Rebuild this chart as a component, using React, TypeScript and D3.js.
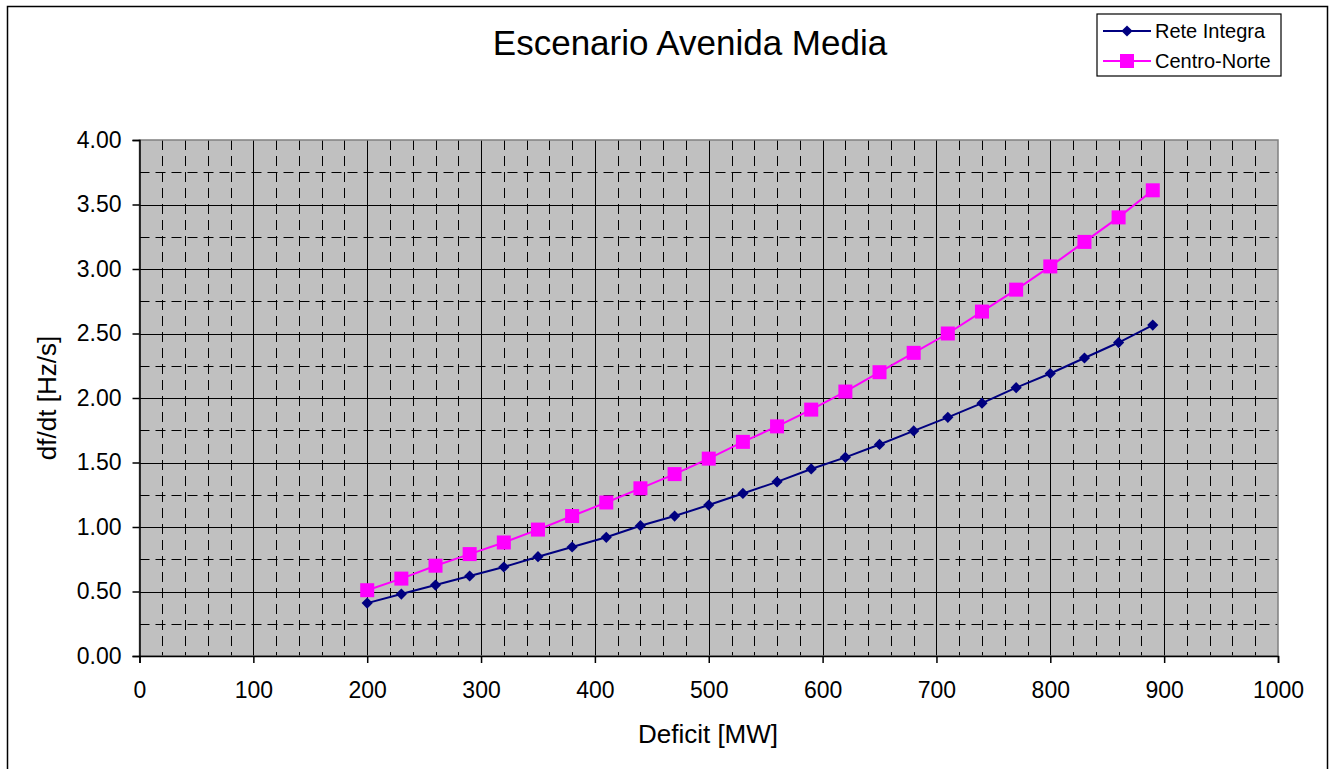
import React, { useEffect, useRef } from 'react';
import * as d3 from 'd3';

const deficit = [200, 230, 260, 290, 320, 350, 380, 410, 440, 470, 500, 530, 560, 590, 620, 650, 680, 710, 740, 770, 800, 830, 860, 890];
const reteIntegra = [0.41, 0.48, 0.55, 0.62, 0.69, 0.77, 0.845, 0.92, 1.01, 1.085, 1.17, 1.26, 1.35, 1.45, 1.54, 1.64, 1.745, 1.85, 1.96, 2.08, 2.19, 2.31, 2.43, 2.565];
const centroNorte = [0.51, 0.60, 0.70, 0.79, 0.88, 0.98, 1.085, 1.19, 1.30, 1.41, 1.53, 1.66, 1.78, 1.91, 2.05, 2.20, 2.35, 2.50, 2.67, 2.84, 3.02, 3.21, 3.40, 3.61];
const xTicks = [0, 100, 200, 300, 400, 500, 600, 700, 800, 900, 1000];
const yTicks = [0, 0.5, 1, 1.5, 2, 2.5, 3, 3.5, 4];

const W = 1333;
const H = 769;
const FONT = "'Liberation Sans', Arial, sans-serif";

export default function App() {
  const ref = useRef<SVGSVGElement>(null);

  useEffect(() => {
    if (!ref.current) return;
    const svg = d3.select(ref.current);
    svg.selectAll('*').remove();

    const left = 139.5, right = 1278, top = 140, bottom = 656;
    const x = d3.scaleLinear().domain([0, 1000]).range([left, right]);
    const y = d3.scaleLinear().domain([0, 4]).range([bottom, top]);

    svg.append('rect').attr('width', W).attr('height', H).attr('fill', '#fff');
    // outer chart border
    svg.append('rect')
      .attr('x', 7.5).attr('y', 6.5).attr('width', 1320).attr('height', 780)
      .attr('fill', 'none').attr('stroke', '#000').attr('stroke-width', 1.5);

    // plot area
    svg.append('rect')
      .attr('x', left).attr('y', top).attr('width', right - left).attr('height', bottom - top)
      .attr('fill', '#c0c0c0');

    const g = svg.append('g');
    // minor grid
    d3.range(0, 1001, 20).filter(v => v % 100 !== 0).forEach(v => {
      g.append('line')
        .attr('x1', Math.round(x(v)) + 0.5).attr('x2', Math.round(x(v)) + 0.5)
        .attr('y1', top).attr('y2', bottom)
        .attr('stroke', '#000').attr('stroke-width', 1).attr('stroke-dasharray', '10,6');
    });
    d3.range(0.25, 4, 0.5).forEach(v => {
      g.append('line')
        .attr('y1', Math.round(y(v)) + 0.5).attr('y2', Math.round(y(v)) + 0.5)
        .attr('x1', left).attr('x2', right)
        .attr('stroke', '#000').attr('stroke-width', 1).attr('stroke-dasharray', '10,6');
    });
    // major grid
    xTicks.slice(1, -1).forEach(v => {
      g.append('line')
        .attr('x1', Math.round(x(v)) + 0.5).attr('x2', Math.round(x(v)) + 0.5)
        .attr('y1', top).attr('y2', bottom)
        .attr('stroke', '#000').attr('stroke-width', 1);
    });
    yTicks.slice(1, -1).forEach(v => {
      g.append('line')
        .attr('y1', Math.round(y(v)) + 0.5).attr('y2', Math.round(y(v)) + 0.5)
        .attr('x1', left).attr('x2', right)
        .attr('stroke', '#000').attr('stroke-width', 1);
    });

    // plot border
    svg.append('rect')
      .attr('x', left).attr('y', top).attr('width', right - left).attr('height', bottom - top)
      .attr('fill', 'none').attr('stroke', '#808080').attr('stroke-width', 1.5);

    // axes
    const xAxis = svg.append('g')
      .attr('transform', `translate(0,${bottom})`)
      .call(d3.axisBottom(x).tickValues(xTicks).tickSize(7).tickPadding(19).tickFormat(d => String(d)));
    xAxis.select('.domain').attr('stroke', '#000').attr('stroke-width', 1.5);
    xAxis.selectAll('line').attr('stroke', '#000').attr('stroke-width', 1.5);
    xAxis.selectAll('text').attr('font-family', FONT).attr('font-size', 23).attr('fill', '#000');

    const yAxis = svg.append('g')
      .attr('transform', `translate(${left},0)`)
      .call(d3.axisLeft(y).tickValues(yTicks).tickSize(7).tickPadding(11).tickFormat(d => (d as number).toFixed(2)));
    yAxis.select('.domain').attr('stroke', '#000').attr('stroke-width', 1.5);
    yAxis.selectAll('line').attr('stroke', '#000').attr('stroke-width', 1.5);
    yAxis.selectAll('text').attr('font-family', FONT).attr('font-size', 23).attr('fill', '#000');

    const line = d3.line<[number, number]>().x(d => x(d[0])).y(d => y(d[1]));
    const ri: [number, number][] = deficit.map((v, i) => [v, reteIntegra[i]]);
    const cn: [number, number][] = deficit.map((v, i) => [v, centroNorte[i]]);

    svg.append('path').datum(cn).attr('d', line).attr('fill', 'none')
      .attr('stroke', '#ff00ff').attr('stroke-width', 2);
    svg.append('path').datum(ri).attr('d', line).attr('fill', 'none')
      .attr('stroke', '#000080').attr('stroke-width', 2);

    const diamond = d3.symbol().type(d3.symbolDiamond2).size(80);
    svg.selectAll('.ri').data(ri).enter().append('path')
      .attr('transform', d => `translate(${x(d[0])},${y(d[1])})`)
      .attr('d', diamond()).attr('fill', '#000080');
    svg.selectAll('.cn').data(cn).enter().append('rect')
      .attr('x', d => x(d[0]) - 7).attr('y', d => y(d[1]) - 7)
      .attr('width', 14).attr('height', 14).attr('fill', '#ff00ff');

    // title
    svg.append('text').attr('x', 690).attr('y', 55).attr('text-anchor', 'middle')
      .attr('font-family', FONT).attr('font-size', 35).attr('fill', '#000')
      .text('Escenario Avenida Media');

    svg.append('text').attr('x', 708).attr('y', 743).attr('text-anchor', 'middle')
      .attr('font-family', FONT).attr('font-size', 26).attr('fill', '#000')
      .text('Deficit [MW]');

    svg.append('text')
      .attr('transform', `translate(56,${(top + bottom) / 2}) rotate(-90)`)
      .attr('text-anchor', 'middle')
      .attr('font-family', FONT).attr('font-size', 26).attr('fill', '#000')
      .text('df/dt [Hz/s]');

    // legend
    const lg = svg.append('g');
    lg.append('rect').attr('x', 1097).attr('y', 14).attr('width', 184).attr('height', 62)
      .attr('fill', '#fff').attr('stroke', '#000').attr('stroke-width', 1.2);
    const items = [
      { name: 'Rete Integra', color: '#000080', y: 31, marker: 'd' },
      { name: 'Centro-Norte', color: '#ff00ff', y: 61, marker: 's' },
    ];
    items.forEach(it => {
      lg.append('line').attr('x1', 1103).attr('x2', 1151).attr('y1', it.y).attr('y2', it.y)
        .attr('stroke', it.color).attr('stroke-width', 2);
      if (it.marker === 'd') {
        lg.append('path').attr('transform', `translate(1127,${it.y})`).attr('d', diamond()).attr('fill', it.color);
      } else {
        lg.append('rect').attr('x', 1120).attr('y', it.y - 7).attr('width', 14).attr('height', 14).attr('fill', it.color);
      }
      lg.append('text').attr('x', 1155).attr('y', it.y + 7)
        .attr('font-family', FONT).attr('font-size', 20).attr('fill', '#000').text(it.name);
    });
  }, []);

  return (
    <div style={{ position: 'absolute', left: 0, top: 0 }}>
      <svg ref={ref} width={W} height={H} style={{ display: 'block' }} />
    </div>
  );
}
